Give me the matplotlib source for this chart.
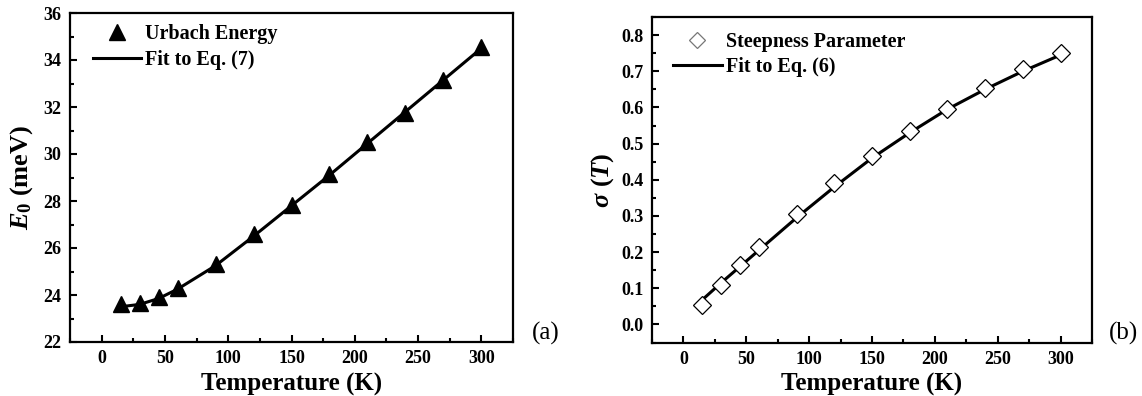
import matplotlib
matplotlib.use('Agg')
import matplotlib.pyplot as plt
from matplotlib.ticker import MultipleLocator

plt.rcParams.update({
    'font.family': 'Liberation Serif',
    'font.weight': 'bold',
    'axes.labelweight': 'bold',
    'mathtext.fontset': 'custom',
    'mathtext.rm': 'Liberation Serif:bold',
    'mathtext.it': 'Liberation Serif:italic:bold',
    'mathtext.bf': 'Liberation Serif:bold',
    'axes.linewidth': 1.6,
})

# ── 데이터 ──
temps = [15, 30, 45, 60, 90, 120, 150, 180, 210, 240, 270, 300]
urbach_e0 = [23.6, 23.65, 23.9, 24.3, 25.3, 26.6, 27.85, 29.15, 30.5, 31.75, 33.15, 34.55]
urbach_fit = [23.5, 23.6, 23.85, 24.25, 25.25, 26.5, 27.8, 29.1, 30.45, 31.8, 33.15, 34.5]
steep_sigma = [0.055, 0.11, 0.165, 0.215, 0.305, 0.39, 0.465, 0.535, 0.595, 0.655, 0.705, 0.75]
steep_fit = [0.068, 0.115, 0.16, 0.205, 0.295, 0.38, 0.46, 0.53, 0.595, 0.65, 0.70, 0.745]
y2_ticks = [0.0, 0.1, 0.2, 0.3, 0.4, 0.5, 0.6, 0.7, 0.8]


def style_axis(ax):
    ax.set_xlim(-25, 325)
    ax.xaxis.set_major_locator(MultipleLocator(50))
    ax.xaxis.set_minor_locator(MultipleLocator(25))
    ax.tick_params(which='both', direction='in', top=False, right=False,
                   labelsize=13, width=1.5)
    ax.tick_params(which='major', length=5, pad=6)
    ax.tick_params(which='minor', length=3)
    ax.set_xlabel('Temperature (K)', fontsize=18, fontweight='bold', labelpad=4)
    for lab in ax.get_xticklabels() + ax.get_yticklabels():
        lab.set_fontweight('bold')


fig = plt.figure(figsize=(11.42, 3.96), dpi=100)
ax1 = fig.add_axes([70 / 1142, 1 - 342 / 396, 443 / 1142, 329 / 396])
ax2 = fig.add_axes([652 / 1142, 1 - 342.5 / 396, 440 / 1142, 325.5 / 396])

# (a) Urbach energy
ax1.plot(temps, urbach_fit, '-', color='black', lw=2.2, label='Fit to Eq. (7)')
ax1.plot(temps, urbach_e0, '^', color='black', ms=11, ls='none', label='Urbach Energy')
ax1.set_ylim(22, 36)
ax1.yaxis.set_major_locator(MultipleLocator(2))
ax1.yaxis.set_minor_locator(MultipleLocator(1))
style_axis(ax1)
ax1.set_ylabel(r'$E_0$ (meV)', fontsize=19, labelpad=6)
h, l = ax1.get_legend_handles_labels()
ax1.legend(h[::-1], l[::-1], loc='upper left', bbox_to_anchor=(0.034, 0.99),
           frameon=False, handlelength=2.4, handletextpad=0.2, borderaxespad=0,
           labelspacing=0.3, prop={'weight': 'bold', 'size': 14.5})
fig.text(546 / 1142, 1 - 333 / 396, '(a)', fontsize=18, fontweight='normal',
         ha='center', va='center')

# (b) Steepness parameter
ax2.plot(temps, steep_fit, '-', color='black', lw=2.2, label='Fit to Eq. (6)')
ax2.plot(temps, steep_sigma, 'D', mfc='white', mec='black', mew=0.9, ms=9,
         ls='none', label='Steepness Parameter')
ax2.set_ylim(-0.05, 0.85)
ax2.yaxis.set_minor_locator(MultipleLocator(0.05))
style_axis(ax2)
ax2.set_yticks(y2_ticks)
ax2.set_yticklabels([f'{v:.1f}' for v in y2_ticks], fontweight='bold')
ax2.set_ylabel(r'$\sigma\ (T)$', fontsize=19, labelpad=4)
h, l = ax2.get_legend_handles_labels()
leg = ax2.legend(h[::-1], l[::-1], loc='upper left', bbox_to_anchor=(0.03, 0.978),
                 frameon=False, handlelength=2.4, handletextpad=0.2, borderaxespad=0,
                 labelspacing=0.25, prop={'weight': 'bold', 'size': 14.5})
leg.legend_handles[0].set_markeredgecolor('#777777')
leg.legend_handles[0].set_markersize(8)
fig.text(1123 / 1142, 1 - 333 / 396, '(b)', fontsize=18, fontweight='normal',
         ha='center', va='center')

fig.savefig('out.png', dpi=100)
plt.close(fig)
